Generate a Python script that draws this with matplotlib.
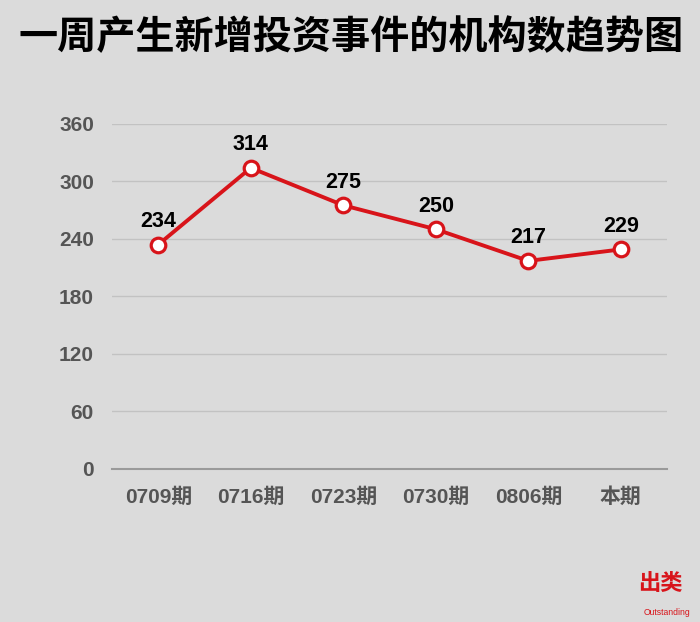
import matplotlib
matplotlib.use("Agg")
from matplotlib import pyplot as plt

plt.rcParams['font.family'] = ['Noto Sans CJK SC', 'DejaVu Sans']
latin = ['Liberation Sans', 'Noto Sans CJK SC']

# data
periods = ["0709期", "0716期", "0723期", "0730期", "0806期", "本期"]
counts = [234, 314, 275, 250, 217, 229]
yticks = [0, 60, 120, 180, 240, 300, 360]

bg = "#dbdbdb"
red = "#d8141a"

fig = plt.figure(figsize=(7, 6.22), dpi=100, facecolor=bg)
ax = fig.add_axes([0.16, 0.246, 0.793, 0.555], facecolor=bg)

# title
fig.text(0.501, 0.94, "一周产生新增投资事件的机构数趋势图", ha="center", va="center",
         fontsize=28.2, fontweight="bold", color="black")

x = list(range(len(periods)))
ax.plot(x, counts, color=red, linewidth=2.8, marker="o", markersize=10.5,
        markerfacecolor="white", markeredgecolor=red, markeredgewidth=2.3, zorder=3)

# value labels
for xi, v in zip(x, counts):
    ax.annotate(str(v), (xi, v), xytext=(0, 9), textcoords="offset points",
                ha="center", va="bottom", fontsize=15.5, fontweight="bold",
                color="black", family=latin)

ax.set_xlim(-0.5, len(periods) - 0.5)
ax.set_ylim(0, 360)
ax.set_yticks(yticks)
ax.set_xticks(x)
ax.set_xticklabels(periods)
ax.grid(axis="y", color="#c2c2c2", linewidth=1)
ax.set_axisbelow(True)

for s in ["left", "right", "top"]:
    ax.spines[s].set_visible(False)
ax.spines["bottom"].set_color("#9a9a9a")
ax.spines["bottom"].set_linewidth(1.5)

ax.tick_params(axis="both", length=0, labelcolor="#555555", labelsize=15)
ax.tick_params(axis="x", pad=13)
ax.tick_params(axis="y", pad=13)
for lbl in ax.get_xticklabels() + ax.get_yticklabels():
    lbl.set_fontweight("bold")
    lbl.set_family(latin)

# watermark
fig.text(0.944, 0.062, "出类", ha="center", va="center", fontsize=16,
         color=red, fontweight="bold")
fig.text(0.953, 0.016, "Outstanding", ha="center", va="center", fontsize=6.2,
         color=red, family="Liberation Sans")

fig.savefig("out.png", dpi=100, facecolor=bg)
